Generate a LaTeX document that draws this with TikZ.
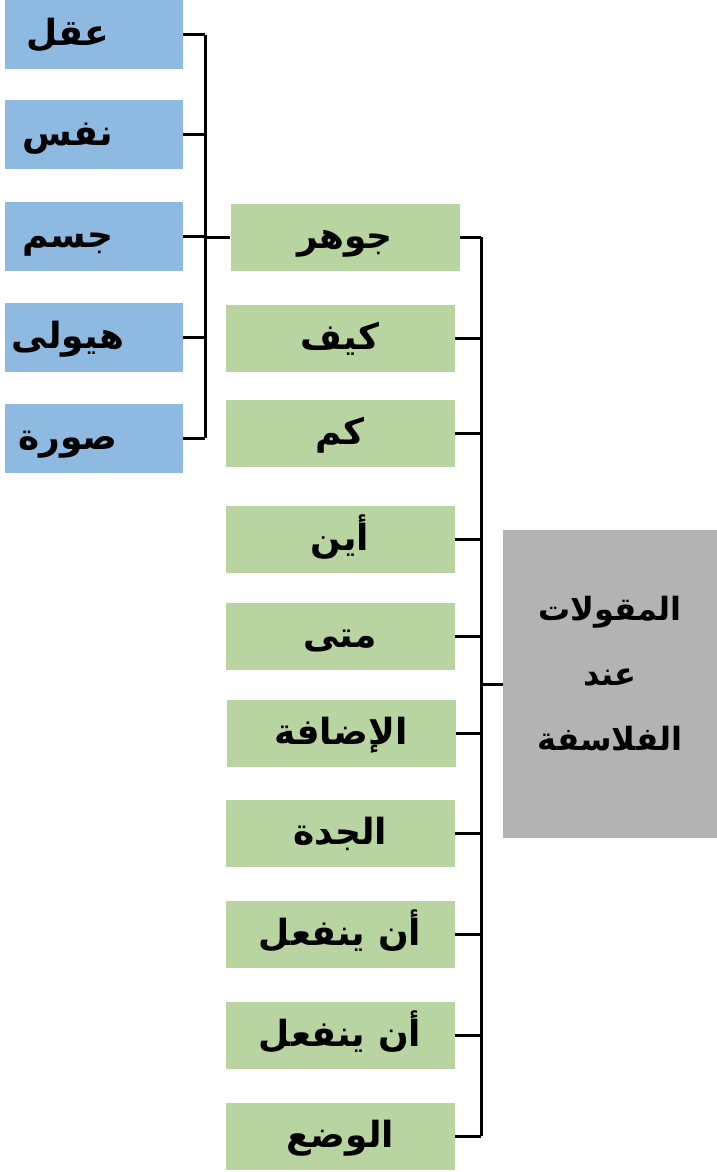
\documentclass[tikz,border=0pt]{standalone}
\usepackage{fontspec}
\newfontfamily\arabicfont[Script=Arabic]{DejaVu Sans}
\TeXXeTstate=1
\definecolor{boxblue}{RGB}{142,185,224}
\definecolor{boxgreen}{RGB}{184,212,161}
\definecolor{boxgray}{RGB}{179,179,179}
\begin{document}
\begin{tikzpicture}[x=1pt,y=-1pt,
  bluebox/.style={fill=boxblue,minimum width=178pt,minimum height=69pt,inner sep=0pt},
  greenbox/.style={fill=boxgreen,minimum width=229pt,minimum height=67pt,inner sep=0pt,
    text height=22pt,text depth=0pt,font=\arabicfont\bfseries\fontsize{36}{40}\selectfont},
  graybox/.style={fill=boxgray,minimum width=214pt,minimum height=308pt,inner sep=0pt},
  graytext/.style={inner sep=0pt,align=center,font=\arabicfont\bfseries\fontsize{32}{65}\selectfont},
  word/.style={inner sep=0pt,text height=22pt,text depth=0pt,
    font=\arabicfont\bfseries\fontsize{36}{40}\selectfont},
  bar/.style={draw,line width=3pt}]
\useasboundingbox (0,0) rectangle (717,1172);

\node[bluebox] (aql) at (94,35) {};
\node[bluebox] (nafs) at (94,134) {};
\node[bluebox] (jism) at (94,236) {};
\node[bluebox] (hayula) at (94,337) {};
\node[bluebox] (sura) at (94,438) {};
\node[word] (aqlt) at (68,35) {\beginR عقل\endR};
\node[word] (nafst) at (68,134) {\beginR نفس\endR};
\node[word] (jismt) at (68,236) {\beginR جسم\endR};
\node[word] (hayulat) at (68,337) {\beginR هيولى\endR};
\node[word] (surat) at (68,438) {\beginR صورة\endR};

\node[greenbox] (jawhar) at (345,237) {\beginR جوهر\endR};
\node[greenbox] (kayf) at (340,338) {\beginR كيف\endR};
\node[greenbox] (kam) at (340,433) {\beginR كم\endR};
\node[greenbox] (ayna) at (340,539) {\beginR أين\endR};
\node[greenbox] (mata) at (340,636) {\beginR متى\endR};
\node[greenbox] (idafa) at (341,733) {\beginR الإضافة\endR};
\node[greenbox] (jidda) at (340,833) {\beginR الجدة\endR};
\node[greenbox] (infial) at (340,934) {\beginR أن ينفعل\endR};
\node[greenbox] (infiall) at (340,1035) {\beginR أن ينفعل\endR};
\node[greenbox] (wad) at (340,1136) {\beginR الوضع\endR};

\node[graybox] (maqulat) at (610,684) {};
\node[graytext] (maqulatt) at (610,674) {\beginR المقولات\endR\\\beginR عند\endR\\\beginR الفلاسفة\endR};

\coordinate (lbar) at (205,0);
\coordinate (rbar) at (481,0);

% left bracket
\path[bar] (aql.east -| lbar) -- (sura.east -| lbar);
\path[bar] (aql.east) -- (aql.east -| lbar);
\path[bar] (nafs.east) -- (nafs.east -| lbar);
\path[bar] (jism.east) -- (jism.east -| lbar);
\path[bar] (hayula.east) -- (hayula.east -| lbar);
\path[bar] (sura.east) -- (sura.east -| lbar);
\path[bar] (jawhar.west -| lbar) -- (jawhar.west);

% right bracket
\path[bar] (jawhar.east -| rbar) -- (wad.east -| rbar);
\path[bar] (jawhar.east) -- (jawhar.east -| rbar);
\path[bar] (kayf.east) -- (kayf.east -| rbar);
\path[bar] (kam.east) -- (kam.east -| rbar);
\path[bar] (ayna.east) -- (ayna.east -| rbar);
\path[bar] (mata.east) -- (mata.east -| rbar);
\path[bar] (idafa.east) -- (idafa.east -| rbar);
\path[bar] (jidda.east) -- (jidda.east -| rbar);
\path[bar] (infial.east) -- (infial.east -| rbar);
\path[bar] (infiall.east) -- (infiall.east -| rbar);
\path[bar] (wad.east) -- (wad.east -| rbar);
\path[bar] (maqulat.west -| rbar) -- (maqulat.west);
\end{tikzpicture}
\end{document}
